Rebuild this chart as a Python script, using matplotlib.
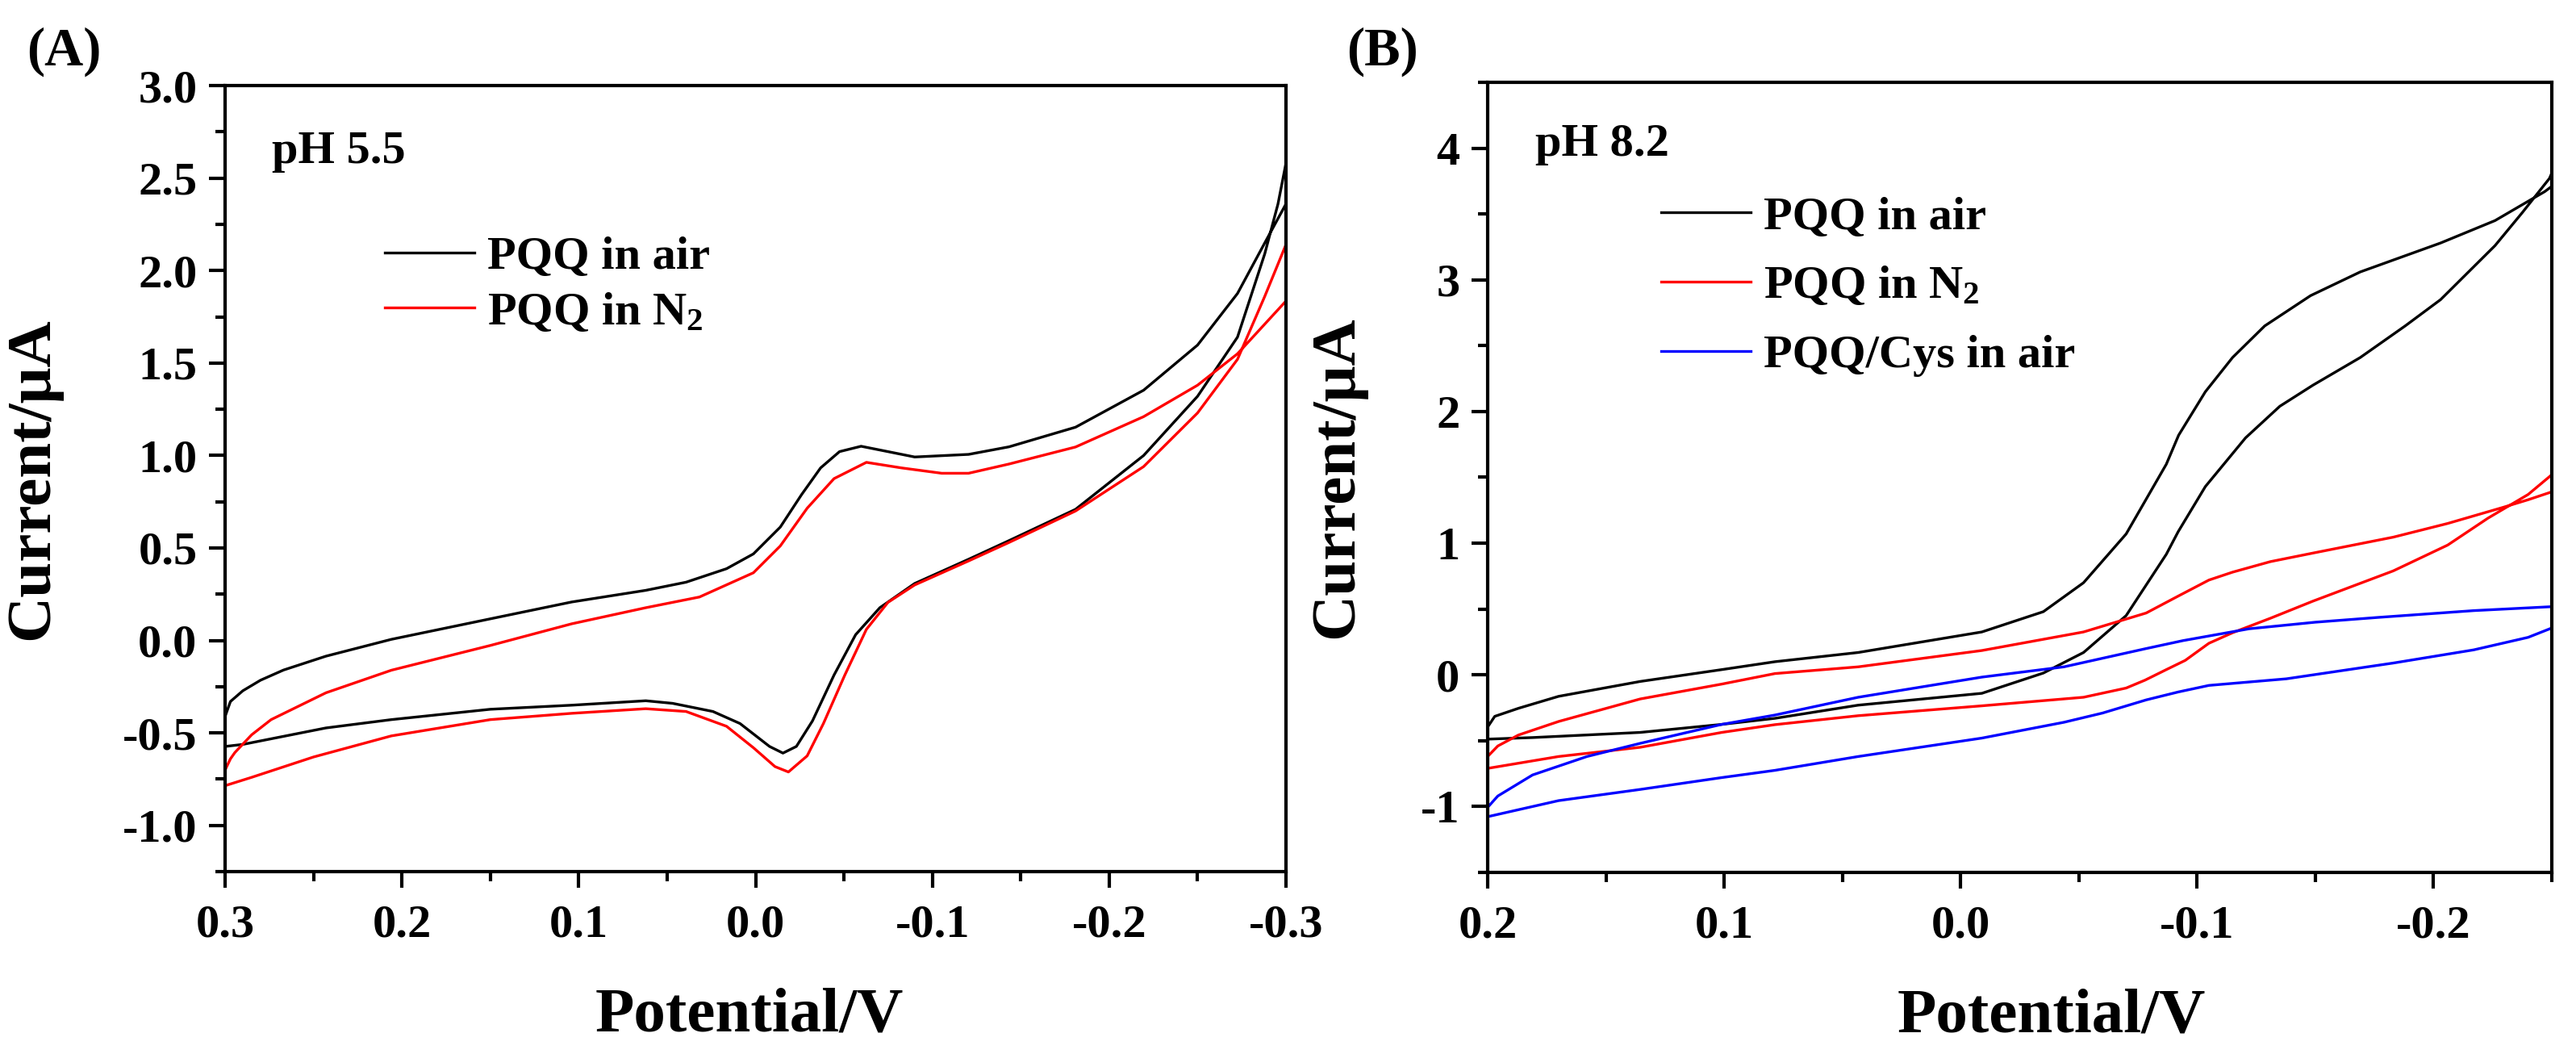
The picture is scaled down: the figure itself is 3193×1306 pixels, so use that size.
import numpy as np
import matplotlib
matplotlib.use("Agg")
import matplotlib.pyplot as plt
from matplotlib.ticker import MultipleLocator, FormatStrFormatter

plt.rcParams['font.family'] = ['Liberation Serif', 'DejaVu Serif']
plt.rcParams['font.weight'] = 'bold'
plt.rcParams['axes.labelweight'] = 'bold'
plt.rcParams['axes.unicode_minus'] = False
plt.rcParams['mathtext.fontset'] = 'custom'
plt.rcParams['mathtext.rm'] = 'Liberation Serif:bold'
plt.rcParams['mathtext.it'] = 'Liberation Serif:bold'
plt.rcParams['mathtext.bf'] = 'Liberation Serif:bold'

# %% data (potential in V, current in uA)
# panel A, pH 5.5 -- forward scan (0.3 -> -0.3) then back
a_air_fwd_v = [0.300, 0.300, 0.297, 0.290, 0.280, 0.267, 0.243, 0.206, 0.150, 0.104,
               0.0621, 0.0393, 0.0164, 0.0012, -0.014, -0.026, -0.0368, -0.0475,
               -0.0597, -0.0749, -0.090, -0.1205, -0.1434, -0.181, -0.2195, -0.250,
               -0.2726, -0.288, -0.300]
a_air_fwd_i = [-0.573, -0.41, -0.33, -0.272, -0.215, -0.16, -0.085, 0.006, 0.117, 0.208,
               0.271, 0.315, 0.388, 0.468, 0.613, 0.788, 0.933, 1.021,
               1.050, 1.021, 0.992, 1.006, 1.047, 1.153, 1.353, 1.597,
               1.876, 2.149, 2.36]
a_air_rev_v = [-0.300, -0.2955, -0.288, -0.2726, -0.250, -0.2195, -0.181, -0.1434,
               -0.1205, -0.090, -0.0703, -0.0566, -0.0444, -0.0322, -0.0231, -0.0155,
               -0.0079, 0.0088, 0.0241, 0.0469, 0.0621, 0.104, 0.150, 0.206, 0.243,
               0.290, 0.300]
a_air_rev_i = [2.58, 2.36, 2.09, 1.64, 1.32, 1.00, 0.709, 0.54,
               0.439, 0.308, 0.177, 0.031, -0.187, -0.435, -0.573, -0.609,
               -0.573, -0.449, -0.384, -0.34, -0.326, -0.35, -0.372, -0.428, -0.473,
               -0.562, -0.573]

a_n2_fwd_v = [0.300, 0.300, 0.297, 0.2945, 0.285, 0.274, 0.243, 0.206, 0.150, 0.104,
              0.0621, 0.0317, 0.0012, -0.014, -0.0292, -0.0444, -0.0627, -0.0825,
              -0.1053, -0.1205, -0.1434, -0.181, -0.2195, -0.250, -0.2726, -0.300]
a_n2_fwd_i = [-0.785, -0.70, -0.64, -0.606, -0.51, -0.428, -0.283, -0.161, -0.027, 0.09,
              0.177, 0.235, 0.366, 0.511, 0.715, 0.875, 0.963, 0.933,
              0.904, 0.904, 0.954, 1.046, 1.21, 1.38, 1.55, 1.835]
a_n2_rev_v = [-0.300, -0.288, -0.2726, -0.250, -0.2195, -0.181, -0.1434, -0.1205,
              -0.090, -0.0749, -0.0627, -0.0505, -0.0384, -0.0292, -0.0186, -0.011,
              0.0012, 0.0164, 0.0393, 0.0621, 0.104, 0.150, 0.206, 0.250, 0.285, 0.300]
a_n2_rev_i = [2.14, 1.86, 1.52, 1.23, 0.94, 0.70, 0.53, 0.43,
              0.30, 0.206, 0.06, -0.187, -0.449, -0.624, -0.711, -0.682,
              -0.58, -0.464, -0.384, -0.369, -0.394, -0.428, -0.516, -0.63, -0.74, -0.785]

# panel B, pH 8.2
b_air_fwd_v = [0.200, 0.200, 0.197, 0.187, 0.170, 0.1355, 0.101, 0.0785, 0.0433, -0.009,
               -0.035, -0.052, -0.070, -0.087, -0.0922, -0.1035, -0.115, -0.1286,
               -0.148, -0.169, -0.203, -0.226, -0.247, -0.250]
b_air_fwd_i = [-0.488, -0.396, -0.315, -0.254, -0.163, -0.05, 0.04, 0.10, 0.17, 0.326,
               0.48, 0.70, 1.07, 1.60, 1.82, 2.15, 2.41, 2.65,
               2.88, 3.06, 3.28, 3.45, 3.67, 3.71]
b_air_rev_v = [-0.250, -0.249, -0.2375, -0.226, -0.203, -0.188, -0.169, -0.149, -0.135,
               -0.1205, -0.1035, -0.092, -0.087, -0.070, -0.052, -0.035, -0.009,
               0.0433, 0.0785, 0.101, 0.1355, 0.181, 0.200]
b_air_rev_i = [3.81, 3.77, 3.51, 3.26, 2.85, 2.65, 2.41, 2.20, 2.04,
               1.80, 1.43, 1.087, 0.916, 0.45, 0.17, 0.014, -0.14,
               -0.23, -0.33, -0.376, -0.437, -0.476, -0.488]

b_n2_fwd_v = [0.200, 0.200, 0.1957, 0.187, 0.170, 0.1355, 0.101, 0.0785, 0.0433, -0.009,
              -0.052, -0.0785, -0.0922, -0.105, -0.115, -0.131, -0.149, -0.183,
              -0.206, -0.229, -0.240, -0.250]
b_n2_fwd_i = [-0.71, -0.62, -0.54, -0.457, -0.354, -0.183, -0.07, 0.01, 0.061, 0.185,
              0.326, 0.47, 0.60, 0.72, 0.78, 0.86, 0.925, 1.046,
              1.15, 1.27, 1.33, 1.39]
b_n2_rev_v = [-0.250, -0.240, -0.223, -0.206, -0.183, -0.149, -0.131, -0.115, -0.105,
              -0.095, -0.087, -0.078, -0.070, -0.052, -0.009, 0.0433, 0.0785, 0.101,
              0.1355, 0.170, 0.200]
b_n2_rev_i = [1.52, 1.37, 1.19, 0.986, 0.79, 0.56, 0.43, 0.32, 0.24,
              0.11, 0.04, -0.04, -0.10, -0.17, -0.235, -0.31, -0.378, -0.437,
              -0.55, -0.62, -0.71]

b_cys_fwd_v = [0.200, 0.200, 0.1957, 0.181, 0.158, 0.1355, 0.101, 0.0785, 0.0433, -0.009,
               -0.0437, -0.0785, -0.094, -0.122, -0.150, -0.177, -0.217, -0.250]
b_cys_fwd_i = [-1.077, -1.006, -0.92, -0.76, -0.62, -0.52, -0.376, -0.305, -0.17, -0.017,
               0.061, 0.20, 0.26, 0.35, 0.40, 0.437, 0.488, 0.518]
b_cys_rev_v = [-0.250, -0.240, -0.217, -0.183, -0.1377, -0.105, -0.092, -0.0785,
               -0.060, -0.0437, -0.009, 0.0433, 0.0785, 0.101, 0.1355, 0.170, 0.200]
b_cys_rev_i = [0.356, 0.285, 0.19, 0.09, -0.03, -0.08, -0.13, -0.19,
               -0.29, -0.36, -0.48, -0.62, -0.725, -0.78, -0.87, -0.955, -1.077]

labels_a = ['PQQ in air', 'PQQ in N$_2$']
labels_b = ['PQQ in air', 'PQQ in N$_2$', 'PQQ/Cys in air']
colors = ['black', '#ff0000', '#0000ff']


def loop(fv, fi, rv, ri):
    return np.array(fv + rv), np.array(fi + ri)


def style_axes(ax):
    for s in ax.spines.values():
        s.set_linewidth(1.0)
    ax.tick_params(which='major', direction='out', length=4.8, width=1.0,
                   labelsize=14, pad=3.5)
    ax.tick_params(which='minor', direction='out', length=2.9, width=1.0)
    ax.tick_params(axis='x', which='major', pad=5)


# %% figure
fig = plt.figure(figsize=(3193 / 300, 1306 / 300), dpi=300)
ax1 = fig.add_axes([0.0874, 0.1730, 0.4118, 0.7458])
ax2 = fig.add_axes([0.5775, 0.1723, 0.4131, 0.7496])

# panel A
x, y = loop(a_air_fwd_v, a_air_fwd_i, a_air_rev_v, a_air_rev_i)
ax1.plot(x, y, color=colors[0], lw=0.8, label=labels_a[0])
x, y = loop(a_n2_fwd_v, a_n2_fwd_i, a_n2_rev_v, a_n2_rev_i)
ax1.plot(x, y, color=colors[1], lw=0.8, label=labels_a[1])
ax1.set_xlim(0.3, -0.3)
ax1.set_ylim(-1.25, 3.0)
ax1.xaxis.set_major_locator(MultipleLocator(0.1))
ax1.xaxis.set_minor_locator(MultipleLocator(0.05))
ax1.yaxis.set_major_locator(MultipleLocator(0.5))
ax1.yaxis.set_minor_locator(MultipleLocator(0.25))
ax1.xaxis.set_major_formatter(FormatStrFormatter('%.1f'))
ax1.yaxis.set_major_formatter(FormatStrFormatter('%.1f'))
style_axes(ax1)
ax1.set_xlabel('Potential/V', fontsize=19, fontweight='bold')
ax1.set_ylabel('Current/μA', fontsize=19, fontweight='bold')
ax1.xaxis.set_label_coords(0.494, -0.147)
ax1.yaxis.set_label_coords(-0.154, 0.5)
ax1.text(0.044, 0.9425, 'pH 5.5', transform=ax1.transAxes, fontsize=14,
         va='top', ha='left')
ax1.legend(loc='upper left', bbox_to_anchor=(0.1506, 0.809), frameon=False,
           fontsize=14, handlelength=1.9, handletextpad=0.27, labelspacing=0.27,
           borderpad=0, borderaxespad=0)

# panel B
x, y = loop(b_air_fwd_v, b_air_fwd_i, b_air_rev_v, b_air_rev_i)
ax2.plot(x, y, color=colors[0], lw=0.8, label=labels_b[0])
x, y = loop(b_n2_fwd_v, b_n2_fwd_i, b_n2_rev_v, b_n2_rev_i)
ax2.plot(x, y, color=colors[1], lw=0.8, label=labels_b[1])
x, y = loop(b_cys_fwd_v, b_cys_fwd_i, b_cys_rev_v, b_cys_rev_i)
ax2.plot(x, y, color=colors[2], lw=0.8, label=labels_b[2])
ax2.set_xlim(0.2, -0.25)
ax2.set_ylim(-1.5, 4.5)
ax2.xaxis.set_major_locator(MultipleLocator(0.1))
ax2.xaxis.set_minor_locator(MultipleLocator(0.05))
ax2.yaxis.set_major_locator(MultipleLocator(1))
ax2.yaxis.set_minor_locator(MultipleLocator(0.5))
ax2.xaxis.set_major_formatter(FormatStrFormatter('%.1f'))
ax2.yaxis.set_major_formatter(FormatStrFormatter('%d'))
style_axes(ax2)
ax2.set_xlabel('Potential/V', fontsize=19, fontweight='bold')
ax2.set_ylabel('Current/μA', fontsize=19, fontweight='bold')
ax2.xaxis.set_label_coords(0.53, -0.147)
ax2.yaxis.set_label_coords(-0.114, 0.5)
ax2.text(0.045, 0.948, 'pH 8.2', transform=ax2.transAxes, fontsize=14,
         va='top', ha='left')
ax2.legend(loc='upper left', bbox_to_anchor=(0.163, 0.856), frameon=False,
           fontsize=14, handlelength=1.9, handletextpad=0.27, labelspacing=0.56,
           borderpad=0, borderaxespad=0)

fig.text(0.0103, 0.9747, '(A)', fontsize=16, va='top', ha='left')
fig.text(0.5227, 0.9747, '(B)', fontsize=16, va='top', ha='left')

fig.savefig('out.png', dpi=300)
